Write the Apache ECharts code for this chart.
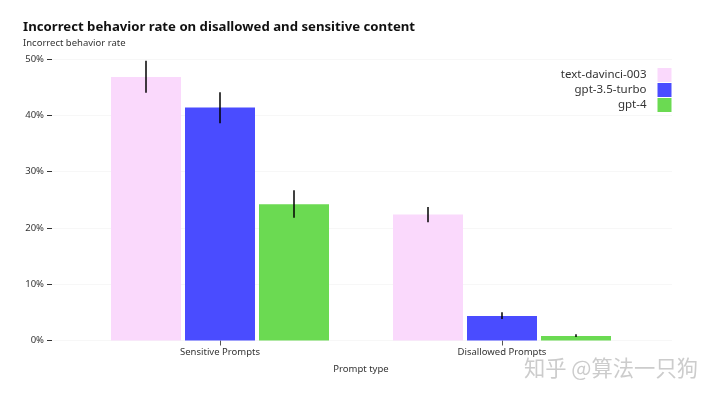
<!DOCTYPE html>
<html style="height: 100%">
   <head>
       <meta charset="utf-8">
   </head>
   <body style="height: 100%; margin: 0; background: #fff">
       <div id="container" style="height: 100%"></div>
       <script type="text/javascript" src="https://cdn.jsdelivr.net/npm/echarts@6/dist/echarts.min.js"></script>
       <script type="text/javascript">
var categories = ['Sensitive Prompts', 'Disallowed Prompts'];
var seriesNames = ['text-davinci-003', 'gpt-3.5-turbo', 'gpt-4'];
var colors = ['#fad9fc', '#4a4cff', '#6bda52'];
var davinci = [46.8, 22.4];
var turbo = [41.4, 4.35];
var gpt4 = [24.2, 0.8];
var davinciErr = [[44.0, 49.7], [21.0, 23.7]];
var turboErr = [[38.6, 44.1], [3.8, 5.0]];
var gpt4Err = [[21.8, 26.7], [0.6, 1.1]];
var yTicks = [0, 10, 20, 30, 40, 50];

var fontFamily = '"Noto Sans", sans-serif';
var barWidth = 70;
var barGap = 4;

var dom = document.getElementById('container');
var myChart = echarts.init(dom);

function errorSeries(errs, idx) {
    return {
        type: 'custom',
        xAxisIndex: 0,
        yAxisIndex: 0,
        z: 5,
        silent: true,
        data: errs.map(function (e, i) {
            return [i, e[0], e[1]];
        }),
        encode: { x: 0, y: [1, 2] },
        renderItem: function (params, api) {
            var low = api.coord([api.value(0), api.value(1)]);
            var high = api.coord([api.value(0), api.value(2)]);
            var dx = (idx - 1) * (barWidth + barGap);
            return {
                type: 'line',
                shape: { x1: low[0] + dx, y1: low[1], x2: high[0] + dx, y2: high[1] },
                style: { stroke: '#000', lineWidth: 1.5 }
            };
        }
    };
}

function barSeries(name, values, color) {
    return {
        name: name,
        type: 'bar',
        xAxisIndex: 0,
        yAxisIndex: 0,
        data: values,
        barWidth: barWidth,
        barGap: (barGap / barWidth * 100) + '%',
        itemStyle: { color: color }
    };
}

var option = {
    animation: false,
    backgroundColor: '#fff',
    title: {
        text: 'Incorrect behavior rate on disallowed and sensitive content',
        subtext: 'Incorrect behavior rate',
        left: 23,
        top: 21,
        itemGap: 4,
        padding: 0,
        textStyle: { fontFamily: fontFamily, fontSize: 13.2, fontWeight: 'bold', color: '#111' },
        subtextStyle: { fontFamily: fontFamily, fontSize: 9.5, color: '#333' }
    },
    legend: {
        data: seriesNames,
        right: 45.5,
        top: 68,
        orient: 'vertical',
        align: 'right',
        itemWidth: 14,
        itemHeight: 14,
        itemGap: 1,
        icon: 'rect',
        textStyle: { fontFamily: fontFamily, fontSize: 11.5, color: '#333', padding: [0, 6, 0, 0] },
        padding: 0
    },
    grid: [
        { left: 79, width: 564, top: 59, height: 281.5 },
        { left: 52, width: 620, top: 59, height: 281.5 }
    ],
    xAxis: [
        {
            type: 'category',
            gridIndex: 0,
            data: categories,
            name: 'Prompt type',
            nameLocation: 'middle',
            nameGap: 24,
            nameTextStyle: { fontFamily: fontFamily, fontSize: 9.5, color: '#333' },
            axisLine: { show: false },
            axisTick: { show: true, alignWithLabel: true, length: 5, lineStyle: { color: '#555' } },
            axisLabel: { fontFamily: fontFamily, fontSize: 9.5, color: '#333', margin: 7 }
        },
        {
            type: 'value',
            gridIndex: 1,
            min: 0,
            max: 1,
            show: false
        }
    ],
    yAxis: [
        {
            type: 'value',
            gridIndex: 0,
            min: 0,
            max: 50,
            show: false
        },
        {
            type: 'value',
            gridIndex: 1,
            min: 0,
            max: 50,
            interval: 10,
            axisLine: { show: false },
            axisTick: { show: true, length: 5, lineStyle: { color: '#333' } },
            axisLabel: {
                fontFamily: fontFamily,
                fontSize: 9.5,
                color: '#333',
                margin: 8,
                formatter: function (v) { return yTicks.indexOf(v) >= 0 ? v + '%' : ''; }
            },
            splitLine: { show: true, lineStyle: { color: '#f7f7f7', width: 1 } }
        }
    ],
    series: [
        barSeries(seriesNames[0], davinci, colors[0]),
        barSeries(seriesNames[1], turbo, colors[1]),
        barSeries(seriesNames[2], gpt4, colors[2]),
        errorSeries(davinciErr, 0),
        errorSeries(turboErr, 1),
        errorSeries(gpt4Err, 2)
    ],
    graphic: [
        {
            type: 'text',
            left: 524,
            top: 357,
            silent: true,
            style: {
                text: '知乎 @算法一只狗',
                fontFamily: '"Noto Sans CJK SC", sans-serif',
                fontSize: 21.3,
                fill: '#cccccc'
            }
        }
    ]
};

myChart.setOption(option, true);
       </script>
   </body>
</html>
